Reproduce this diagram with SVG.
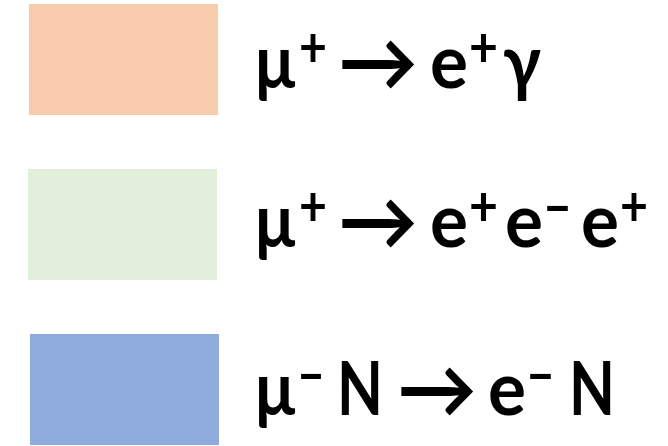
<svg xmlns="http://www.w3.org/2000/svg" width="668" height="446" viewBox="0 0 668 446">
<style>
.t{font-family:Lato,"Open Sans","Liberation Sans",sans-serif;font-weight:bold;fill:#000;font-size:74px}
.s{font-family:Lato,"Open Sans","Liberation Sans",sans-serif;font-weight:bold;fill:#000;font-size:56px}
.a{font-family:Lato,"Open Sans","Liberation Sans",sans-serif;font-weight:bold;fill:#000;font-size:82px}
</style>
<rect width="668" height="446" fill="#fff"/>
<g id="row1">
<rect x="29" y="4" width="189" height="111" fill="#F8CBAD"/>
<text class="t" x="255" y="88" textLength="40" lengthAdjust="spacingAndGlyphs">μ</text>
<text class="s" x="299" y="67" textLength="28" lengthAdjust="spacingAndGlyphs">+</text>
<text class="a" x="338" y="91" textLength="80" lengthAdjust="spacingAndGlyphs">→</text>
<text class="t" x="430" y="88" textLength="38" lengthAdjust="spacingAndGlyphs">e</text>
<text class="s" x="469" y="67" textLength="29" lengthAdjust="spacingAndGlyphs">+</text>
<text class="t" x="503" y="88" textLength="38" lengthAdjust="spacingAndGlyphs">γ</text>
</g>
<g id="row2">
<rect x="28" y="169" width="189" height="111" fill="#E2EFDA"/>
<text class="t" x="255" y="247" textLength="40" lengthAdjust="spacingAndGlyphs">μ</text>
<text class="s" x="299" y="226" textLength="28" lengthAdjust="spacingAndGlyphs">+</text>
<text class="a" x="338" y="250" textLength="80" lengthAdjust="spacingAndGlyphs">→</text>
<text class="t" x="430" y="247" textLength="38" lengthAdjust="spacingAndGlyphs">e</text>
<text class="s" x="469" y="226" textLength="29" lengthAdjust="spacingAndGlyphs">+</text>
<text class="t" x="505" y="247" textLength="38" lengthAdjust="spacingAndGlyphs">e</text>
<text class="s" x="544" y="227" textLength="27" lengthAdjust="spacingAndGlyphs">−</text>
<text class="t" x="581" y="247" textLength="38" lengthAdjust="spacingAndGlyphs">e</text>
<text class="s" x="620" y="226" textLength="28" lengthAdjust="spacingAndGlyphs">+</text>
</g>
<g id="row3">
<rect x="30" y="334" width="189" height="111" fill="#8FAADC"/>
<text class="t" x="255" y="415" textLength="40" lengthAdjust="spacingAndGlyphs">μ</text>
<text class="s" x="298" y="395" textLength="26" lengthAdjust="spacingAndGlyphs">−</text>
<text class="t" x="337" y="415" textLength="46" lengthAdjust="spacingAndGlyphs">N</text>
<text class="a" x="397" y="418" textLength="80" lengthAdjust="spacingAndGlyphs">→</text>
<text class="t" x="488" y="415" textLength="38" lengthAdjust="spacingAndGlyphs">e</text>
<text class="s" x="527" y="395" textLength="27" lengthAdjust="spacingAndGlyphs">−</text>
<text class="t" x="569" y="415" textLength="46" lengthAdjust="spacingAndGlyphs">N</text>
</g>
</svg>
